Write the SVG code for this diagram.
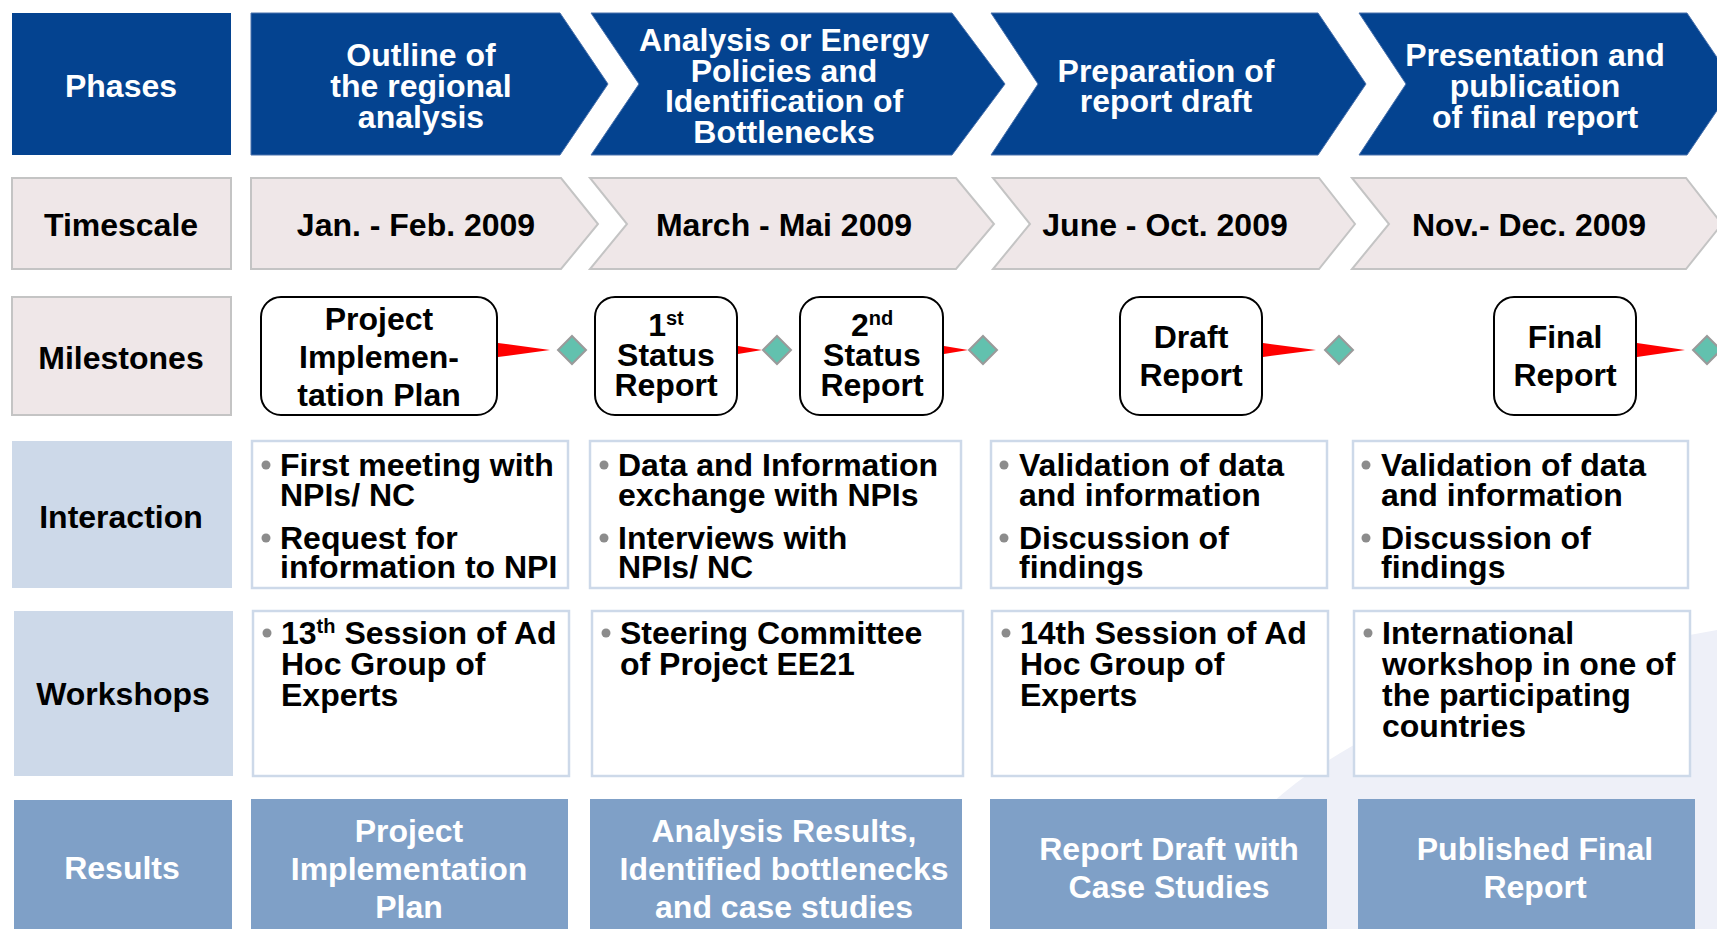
<svg xmlns="http://www.w3.org/2000/svg" width="1717" height="929" viewBox="0 0 1717 929">
<defs>
<style>
text{font-family:"Liberation Sans",Arial,sans-serif;font-weight:bold;font-size:32px;}
.w{fill:#ffffff;}
.k{fill:#000000;}
.c{text-anchor:middle;}
.phase{fill:#044390;stroke:#4a72ad;stroke-width:1;}
.time{fill:#efe7e8;stroke:#c4c4c4;stroke-width:2;}
.lbl{fill:#cdd9e9;}
.box{fill:#ffffff;stroke:#cdd9e9;stroke-width:2.5;}
.res{fill:#7fa0c7;}
.ms{fill:#ffffff;stroke:#000000;stroke-width:2;}
.dot{fill:#8c8c8c;}
.flag{fill:#ff0000;}
.dia{fill:#62c1ae;stroke:#9a9a9a;stroke-width:2;}
.sup{font-size:20px;}
</style>
</defs>
<rect x="0" y="0" width="1717" height="929" fill="#ffffff"/>
<g id="background">
<path d="M1190,929 C1225,820 1330,700 1717,630 L1717,929 Z" fill="#eef0f8"/>
</g>

<!-- Row 1: Phases -->
<g id="phases-label">
<rect x="12" y="13" width="219" height="142" fill="#044390"/>
<text class="w c" x="121" y="97">Phases</text>
</g>
<g id="phase-1">
<polygon class="phase" points="251,13 560,13 608,84 560,155 251,155"/>
<text class="w c" x="421"><tspan x="421" y="66">Outline of</tspan><tspan x="421" y="97">the regional</tspan><tspan x="421" y="128">analysis</tspan></text>
</g>
<g id="phase-2">
<polygon class="phase" points="591,13 952,13 1005,84 952,155 591,155 639,84"/>
<text class="w c" x="784"><tspan x="784" y="51">Analysis or Energy</tspan><tspan x="784" y="82">Policies and</tspan><tspan x="784" y="112">Identification of</tspan><tspan x="784" y="143">Bottlenecks</tspan></text>
</g>
<g id="phase-3">
<polygon class="phase" points="991,13 1318,13 1366,84 1318,155 991,155 1038,84"/>
<text class="w c" x="1166"><tspan x="1166" y="82">Preparation of</tspan><tspan x="1166" y="112">report draft</tspan></text>
</g>
<g id="phase-4">
<polygon class="phase" points="1359,13 1687,13 1735,84 1687,155 1359,155 1406,84"/>
<text class="w c" x="1535"><tspan x="1535" y="66">Presentation and</tspan><tspan x="1535" y="97">publication</tspan><tspan x="1535" y="128">of final report</tspan></text>
</g>

<!-- Row 2: Timescale -->
<g id="timescale-label">
<rect class="time" x="12" y="178" width="219" height="91"/>
<text class="k c" x="121" y="236">Timescale</text>
</g>
<g id="time-1">
<polygon class="time" points="251,178 561,178 598,224 561,269 251,269"/>
<text class="k c" x="416" y="236">Jan. - Feb. 2009</text>
</g>
<g id="time-2">
<polygon class="time" points="590,178 956,178 994,224 956,269 590,269 627,224"/>
<text class="k c" x="784" y="236">March - Mai 2009</text>
</g>
<g id="time-3">
<polygon class="time" points="993,178 1319,178 1355,224 1319,269 993,269 1030,224"/>
<text class="k c" x="1165" y="236">June - Oct. 2009</text>
</g>
<g id="time-4">
<polygon class="time" points="1352,178 1686,178 1722,224 1686,269 1352,269 1389,224"/>
<text class="k c" x="1529" y="236">Nov.- Dec. 2009</text>
</g>

<!-- Row 3: Milestones -->
<g id="milestones-label">
<rect class="time" x="12" y="297" width="219" height="118"/>
<text class="k c" x="121" y="369">Milestones</text>
</g>
<g id="ms-project-plan">
<rect class="ms" x="261" y="297" width="236" height="118" rx="20"/>
<text class="k c" x="379"><tspan x="379" y="330">Project</tspan><tspan x="379" y="368">Implemen-</tspan><tspan x="379" y="406">tation Plan</tspan></text>
</g>
<g id="ms-status-1">
<rect class="ms" x="595" y="297" width="142" height="118" rx="20"/>
<text class="k c" x="666" y="336">1<tspan class="sup" dy="-11">st</tspan></text>
<text class="k c" x="666"><tspan x="666" y="366">Status</tspan><tspan x="666" y="396">Report</tspan></text>
</g>
<g id="ms-status-2">
<rect class="ms" x="800" y="297" width="143" height="118" rx="20"/>
<text class="k c" x="872" y="336">2<tspan class="sup" dy="-11">nd</tspan></text>
<text class="k c" x="872"><tspan x="872" y="366">Status</tspan><tspan x="872" y="396">Report</tspan></text>
</g>
<g id="ms-draft">
<rect class="ms" x="1120" y="297" width="142" height="118" rx="20"/>
<text class="k c" x="1191"><tspan x="1191" y="348">Draft</tspan><tspan x="1191" y="386">Report</tspan></text>
</g>
<g id="ms-final">
<rect class="ms" x="1494" y="297" width="142" height="118" rx="20"/>
<text class="k c" x="1565"><tspan x="1565" y="348">Final</tspan><tspan x="1565" y="386">Report</tspan></text>
</g>

<g id="connectors">
<polygon class="flag" points="498,343 550,350 498,357"/>
<polygon class="dia" points="572,336 586,350 572,364 558,350"/>
<polygon class="flag" points="738,346 762,350 738,354"/>
<polygon class="dia" points="777,336 791,350 777,364 763,350"/>
<polygon class="flag" points="944,346 968,350 944,354"/>
<polygon class="dia" points="983,336 997,350 983,364 969,350"/>
<polygon class="flag" points="1263,343 1316,350 1263,357"/>
<polygon class="dia" points="1339,336 1353,350 1339,364 1325,350"/>
<polygon class="flag" points="1637,343 1685,350 1637,357"/>
<polygon class="dia" points="1707,336 1721,350 1707,364 1693,350"/>
</g>

<!-- Row 4: Interaction -->
<g id="interaction-label">
<rect class="lbl" x="12" y="441" width="220" height="147"/>
<text class="k c" x="121" y="528">Interaction</text>
</g>
<g id="int-1">
<rect class="box" x="252" y="441" width="316" height="147"/>
<circle class="dot" cx="266" cy="465" r="4.5"/>
<circle class="dot" cx="266" cy="538" r="4.5"/>
<text class="k"><tspan x="280" y="476">First meeting with</tspan><tspan x="280" y="506">NPIs/ NC</tspan><tspan x="280" y="549">Request for</tspan><tspan x="280" y="578">information to NPI</tspan></text>
</g>
<g id="int-2">
<rect class="box" x="590" y="441" width="371" height="147"/>
<circle class="dot" cx="604" cy="465" r="4.5"/>
<circle class="dot" cx="604" cy="538" r="4.5"/>
<text class="k"><tspan x="618" y="476">Data and Information</tspan><tspan x="618" y="506">exchange with NPIs</tspan><tspan x="618" y="549">Interviews with</tspan><tspan x="618" y="578">NPIs/ NC</tspan></text>
</g>
<g id="int-3">
<rect class="box" x="991" y="441" width="336" height="147"/>
<circle class="dot" cx="1004" cy="465" r="4.5"/>
<circle class="dot" cx="1004" cy="538" r="4.5"/>
<text class="k"><tspan x="1019" y="476">Validation of data</tspan><tspan x="1019" y="506">and information</tspan><tspan x="1019" y="549">Discussion of</tspan><tspan x="1019" y="578">findings</tspan></text>
</g>
<g id="int-4">
<rect class="box" x="1353" y="441" width="335" height="147"/>
<circle class="dot" cx="1366" cy="465" r="4.5"/>
<circle class="dot" cx="1366" cy="538" r="4.5"/>
<text class="k"><tspan x="1381" y="476">Validation of data</tspan><tspan x="1381" y="506">and information</tspan><tspan x="1381" y="549">Discussion of</tspan><tspan x="1381" y="578">findings</tspan></text>
</g>

<!-- Row 5: Workshops -->
<g id="workshops-label">
<rect class="lbl" x="14" y="611" width="219" height="165"/>
<text class="k c" x="123" y="705">Workshops</text>
</g>
<g id="ws-1">
<rect class="box" x="253" y="611" width="316" height="165"/>
<circle class="dot" cx="267" cy="633" r="4.5"/>
<text class="k" x="281" y="644">13<tspan class="sup" dy="-11">th</tspan><tspan dy="11"> Session of Ad</tspan></text>
<text class="k"><tspan x="281" y="675">Hoc Group of</tspan><tspan x="281" y="706">Experts</tspan></text>
</g>
<g id="ws-2">
<rect class="box" x="592" y="611" width="371" height="165"/>
<circle class="dot" cx="606" cy="633" r="4.5"/>
<text class="k"><tspan x="620" y="644">Steering Committee</tspan><tspan x="620" y="675">of Project EE21</tspan></text>
</g>
<g id="ws-3">
<rect class="box" x="992" y="611" width="336" height="165"/>
<circle class="dot" cx="1006" cy="633" r="4.5"/>
<text class="k"><tspan x="1020" y="644">14th Session of Ad</tspan><tspan x="1020" y="675">Hoc Group of</tspan><tspan x="1020" y="706">Experts</tspan></text>
</g>
<g id="ws-4">
<rect class="box" x="1354" y="611" width="336" height="165"/>
<circle class="dot" cx="1368" cy="633" r="4.5"/>
<text class="k"><tspan x="1382" y="644">International</tspan><tspan x="1382" y="675">workshop in one of</tspan><tspan x="1382" y="706">the participating</tspan><tspan x="1382" y="737">countries</tspan></text>
</g>

<!-- Row 6: Results -->
<g id="results-label">
<rect class="res" x="14" y="800" width="218" height="140"/>
<text class="w c" x="122" y="879">Results</text>
</g>
<g id="res-1">
<rect class="res" x="251" y="799" width="317" height="140"/>
<text class="w c" x="409"><tspan x="409" y="842">Project</tspan><tspan x="409" y="880">Implementation</tspan><tspan x="409" y="918">Plan</tspan></text>
</g>
<g id="res-2">
<rect class="res" x="590" y="799" width="372" height="140"/>
<text class="w c" x="784"><tspan x="784" y="842">Analysis Results,</tspan><tspan x="784" y="880">Identified bottlenecks</tspan><tspan x="784" y="918">and case studies</tspan></text>
</g>
<g id="res-3">
<rect class="res" x="990" y="799" width="337" height="140"/>
<text class="w c" x="1169"><tspan x="1169" y="860">Report Draft with</tspan><tspan x="1169" y="898">Case Studies</tspan></text>
</g>
<g id="res-4">
<rect class="res" x="1358" y="799" width="337" height="140"/>
<text class="w c" x="1535"><tspan x="1535" y="860">Published Final</tspan><tspan x="1535" y="898">Report</tspan></text>
</g>
</svg>
